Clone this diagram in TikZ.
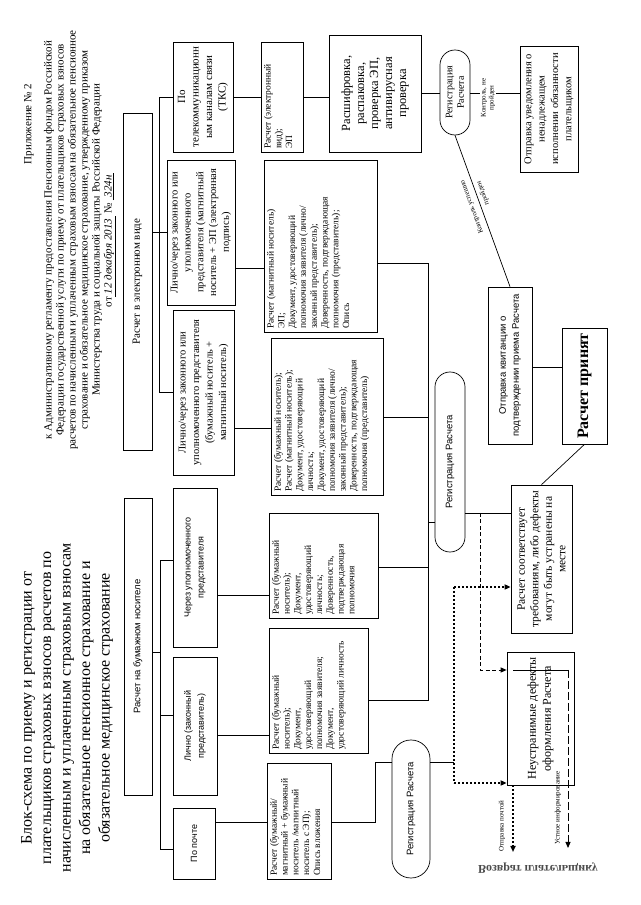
\documentclass[tikz,border=0pt]{standalone}
\usepackage{fontspec}
\setmainfont{Liberation Serif}
\setsansfont{Liberation Sans}
\usetikzlibrary{arrows.meta}
\newcommand\dtxt[3]{\parbox[c][#2][t]{#1}{\raggedright #3}}
\tikzset{
  bx/.style={draw, line width=0.7pt, inner sep=1pt, align=center},
  docb/.style={draw, line width=0.7pt, inner xsep=3pt, inner ysep=3pt, font=\fontsize{9.5}{10.8}\selectfont},
  stad/.style={draw, line width=0.7pt, inner sep=0pt, align=center},
  ln/.style={line width=0.7pt},
  dotl/.style={line width=1.8pt, dash pattern=on 1.8pt off 2.2pt},
  dashl/.style={line width=0.9pt, dash pattern=on 4pt off 2.5pt},
  ldashl/.style={line width=0.9pt, dash pattern=on 8pt off 3pt},
  arr/.style={-{Triangle[length=6pt,width=5pt]}},
  lbl/.style={font=\fontsize{7}{8}\selectfont, inner sep=0.5pt},
}
\begin{document}
\begin{tikzpicture}[x=1pt,y=1pt]
\useasboundingbox (0,0) rectangle (640,905);
\fill[white] (0,0) rectangle (640,905);
\begin{scope}[rotate=90, transform shape]
% header
\node[font=\fontsize{11}{12}\selectfont] (app) at (781,-29) {Приложение № 2};
\node[align=center, font=\fontsize{11}{12}\selectfont] (hdr) at (665,-80) {к Административному регламенту предоставления Пенсионным фондом Российской\\ Федерации государственной услуги по приему от плательщиков страховых взносов\\ расчетов по начисленным и уплаченным страховым взносам на обязательное пенсионное\\ страхование и обязательное медицинское страхование, утвержденному приказом\\ Министерства труда и социальной защиты Российской Федерации\\ от\underline{\textit{\ 12 декабря 2013\ }} № \underline{\textit{\ 324н\ }}};
\node[align=center, font=\fontsize{16}{19.5}\selectfont] (title) at (197,-67) {Блок-схема по приему и регистрации от\\ плательщиков страховых взносов расчетов по\\ начисленным и уплаченным страховым взносам\\ на обязательное пенсионное страхование и\\ обязательное медицинское страхование};
% level 1
\node[bx, minimum width=337pt, minimum height=29pt, font=\fontsize{11}{13}\selectfont] (elec) at (623.5,-137.5) {Расчет в электронном виде};
\node[bx, minimum width=297pt, minimum height=28pt, font=\sffamily\fontsize{9.5}{11}\selectfont] (paper) at (258.5,-138) {Расчет на бумажном носителе};
% level 2
\node[bx, minimum width=110pt, minimum height=60pt, font=\fontsize{11}{13.5}\selectfont] (tks) at (808,-203) {По\\ телекоммуникационн\\ ым каналам связи\\ (ТКС)};
\node[bx, minimum width=145pt, minimum height=68pt, font=\fontsize{10.5}{12.8}\selectfont] (ep) at (672.5,-201) {Лично/через законного или\\ уполномоченного\\ представителя (магнитный\\ носитель + ЭП (электронная\\ подпись)};
\node[bx, minimum width=165pt, minimum height=61pt, font=\fontsize{10.5}{13.5}\selectfont] (bm) at (512.5,-203.5) {Лично/через законного или\\ уполномоченного представителя\\ (бумажный носитель +\\ магнитный носитель)};
\node[bx, minimum width=159pt, minimum height=44pt, font=\sffamily\fontsize{9}{13}\selectfont] (cher) at (337.5,-195) {Через уполномоченного\\ представителя};
\node[bx, minimum width=138pt, minimum height=44pt, font=\sffamily\fontsize{9}{13}\selectfont] (lich) at (179,-195) {Лично (законный\\ представитель)};
\node[bx, minimum width=71pt, minimum height=42pt, font=\sffamily\fontsize{9}{13}\selectfont] (post) at (61.5,-194) {По почте};
% documents
\node[docb] (e) at (659,-320.5) {\dtxt{166pt}{107pt}{Расчет (магнитный носитель)\\ ЭП;\\ Документ, удостоверяющий\\ полномочия заявителя (лично/\\ законный представитель);\\ Доверенность, подтверждающая\\ полномочия (представитель);\\ Опись}};
\node[docb] (d) at (488.5,-327) {\dtxt{151pt}{106pt}{Расчет (бумажный носитель);\\ Расчет (магнитный носитель);\\ Документ, удостоверяющий\\ личность;\\ Документ, удостоверяющий\\ полномочия заявителя (лично/\\ законный представитель);\\ Доверенность, подтверждающая\\ полномочия (представитель)}};
\node[docb] (c) at (339.5,-323.5) {\dtxt{99pt}{103pt}{Расчет (бумажный\\ носитель);\\ Документ,\\ удостоверяющий\\ личность;\\ Доверенность,\\ подтверждающая\\ полномочия}};
\node[docb] (b) at (214.5,-318.5) {\dtxt{119pt}{93pt}{Расчет (бумажный\\ носитель);\\ Документ,\\ удостоверяющий\\ полномочия заявителя;\\ Документ,\\ удостоверяющий личность}};
\node[docb] (a) at (84,-299) {\dtxt{110pt}{58pt}{Расчет (бумажный/\\ магнитный + бумажный\\ носитель /магнитный\\ носитель с ЭП);\\ Опись вложения}};
\node[docb] (f) at (808,-282) {\dtxt{104pt}{36pt}{Расчет (электронный\\ вид);\\ ЭП}};
% processing
\node[bx, minimum width=117pt, minimum height=92pt, font=\fontsize{12.5}{14}\selectfont] (decr) at (811.5,-375) {Расшифровка,\\ распаковка,\\ проверка ЭП,\\ антивирусная\\ проверка};
\node[stad, rounded corners=14.9pt, minimum width=85pt, minimum height=30pt, font=\fontsize{10}{11.5}\selectfont] (reg1) at (812.5,-455) {Регистрация\\ Расчета};
\node[bx, minimum width=126pt, minimum height=58pt, font=\fontsize{10.5}{13.3}\selectfont] (notif) at (796,-549) {Отправка уведомления о\\ ненадлежащем\\ исполнении обязанности\\ плательщиком};
\node[bx, minimum width=157pt, minimum height=44pt, font=\sffamily\fontsize{9.5}{13}\selectfont] (kvit) at (539.5,-510) {Отправка квитанции о\\ подтверждении приема Расчета};
\node[bx, minimum width=116pt, minimum height=45pt, font=\bfseries\fontsize{16}{18}\selectfont] (acc) at (519,-584.5) {Расчет принят};
\node[stad, rounded corners=14.9pt, minimum width=180pt, minimum height=30pt, font=\sffamily\fontsize{9.5}{11}\selectfont] (reg2) at (443,-450) {Регистрация Расчета};
\node[bx, minimum width=148pt, minimum height=61pt, font=\fontsize{11.5}{13.5}\selectfont] (ok) at (346,-541.5) {Расчет соответствует\\ требованиям, либо дефекты\\ могут быть устранены на\\ месте};
\node[bx, minimum width=133pt, minimum height=67pt, font=\fontsize{12}{15}\selectfont] (bad) at (186.5,-540.5) {Неустранимые дефекты\\ оформления Расчета};
\node[stad, rounded corners=18.9pt, minimum width=138pt, minimum height=38pt, font=\sffamily\fontsize{9.5}{11}\selectfont] (reg3) at (96,-411) {Регистрация Расчета};
% ---- connectors
\coordinate (ebus) at (0,-159);
\draw[ln] (tks.north) -- (tks.north |- ebus) -- (bm.north |- ebus) -- (bm.north);
\draw[ln] (elec.south -| ep.north) -- (ep.north);
\coordinate (pbus) at (0,-160);
\coordinate (pc) at (345,0); \coordinate (pl) at (190,0); \coordinate (pp) at (56,0); \coordinate (ppar) at (253,0);
\draw[ln] (pc |- cher.north) -- (pc |- pbus) -- (pp |- pbus) -- (pp |- post.north);
\draw[ln] (pl |- pbus) -- (pl |- lich.north);
\draw[ln] (ppar |- paper.south) -- (ppar |- pbus);
\coordinate (k1) at (637,0); \draw[ln] (k1 |- ep.south) -- (k1 |- e.north);
\coordinate (k2) at (477,0); \draw[ln] (k2 |- bm.south) -- (k2 |- d.north);
\coordinate (k3) at (310,0); \draw[ln] (k3 |- cher.south) -- (k3 |- c.north);
\coordinate (k4) at (170,0); \draw[ln] (k4 |- lich.south) -- (k4 |- b.north);
\coordinate (k5) at (83,0); \draw[ln] (k5 |- post.south) -- (k5 |- a.north);
\draw[ln] (tks.south) -- (f.north);
\coordinate (k6) at (808,0); \draw[ln] (k6 |- f.south) -- (k6 |- decr.north);
\coordinate (k7) at (812,0); \draw[ln] (k7 |- decr.south) -- (k7 |- reg1.north);
\draw[ln] (k7 |- reg1.south) -- (k7 |- notif.north);
\node[lbl, fill=white, align=center] (lnot) at (807,-488) {Контроль, не\\ пройден};
\draw[ln] (reg1.west) -- (kvit.east);
\node[lbl, rotate=19.9] (lok1) at (698,-472) {Контроль успешно};
\node[lbl, rotate=19.9] (lok2) at (712,-483) {пройден};
\coordinate (k8) at (538,0); \draw[ln] (k8 |- kvit.south) -- (k8 |- acc.north);
\draw[ln] (ok.east) -- (acc.west);
\coordinate (rbus) at (0,-428);
\coordinate (m1) at (642,0); \coordinate (m2) at (488,0); \coordinate (m3) at (338,0); \coordinate (m4) at (205,0); \coordinate (m5) at (383,0);
\draw[ln] (m1 |- e.south) -- (m1 |- rbus) -- (m4 |- rbus) -- (m4 |- b.south);
\draw[ln] (m2 |- d.south) -- (m2 |- rbus);
\draw[ln] (m3 |- c.south) -- (m3 |- rbus);
\draw[ln] (m5 |- rbus) -- (m5 |- reg2.north);
\coordinate (m6) at (392,0); \coordinate (dbus) at (0,-480); \coordinate (m7) at (235,0);
\draw[ln] (m6 |- reg2.south) -- (m6 |- ok.north);
\draw[dashl, arr] (m6 |- dbus) -- (m7 |- dbus) -- (m7 |- bad.north);
\coordinate (n1) at (143,0); \coordinate (abus) at (0,-375);
\draw[ln] (k5 |- a.south) -- (k5 |- abus) -- (n1 |- abus) -- (n1 |- reg3.north);
\coordinate (dotb) at (0,-454); \coordinate (n2) at (318,0); \coordinate (n3) at (122,0);
\draw[ln] (n1 |- reg3.south) -- (n1 |- dotb);
\draw[dotl] (n2 |- dotb) -- (n3 |- dotb);
\draw[dotl, arr] (n2 |- dotb) -- (n2 |- ok.north);
\draw[dotl, arr] (n3 |- dotb) -- (n3 |- bad.north);
\coordinate (q1) at (0,-513); \coordinate (q1e) at (53,-513);
\draw[dotl, arr] (bad.west |- q1) -- (q1e);
\coordinate (q2) at (0,-568); \coordinate (q2e) at (57,-568);
\draw[ln] (m7 |- q1) -- (m7 |- q2);
\draw[ldashl, arr] (m7 |- q2) -- (q2e);
\node[lbl] (lpost) at (79,-502) {Отправка почтой};
\node[lbl] (loral) at (97,-558) {Устное информирование};
\node[rotate=-90, yscale=-1, font=\bfseries\fontsize{12}{13}\selectfont, text=black!70] (ret) at (37,-538) {Возврат плательщику};
\end{scope}
\end{tikzpicture}
\end{document}
